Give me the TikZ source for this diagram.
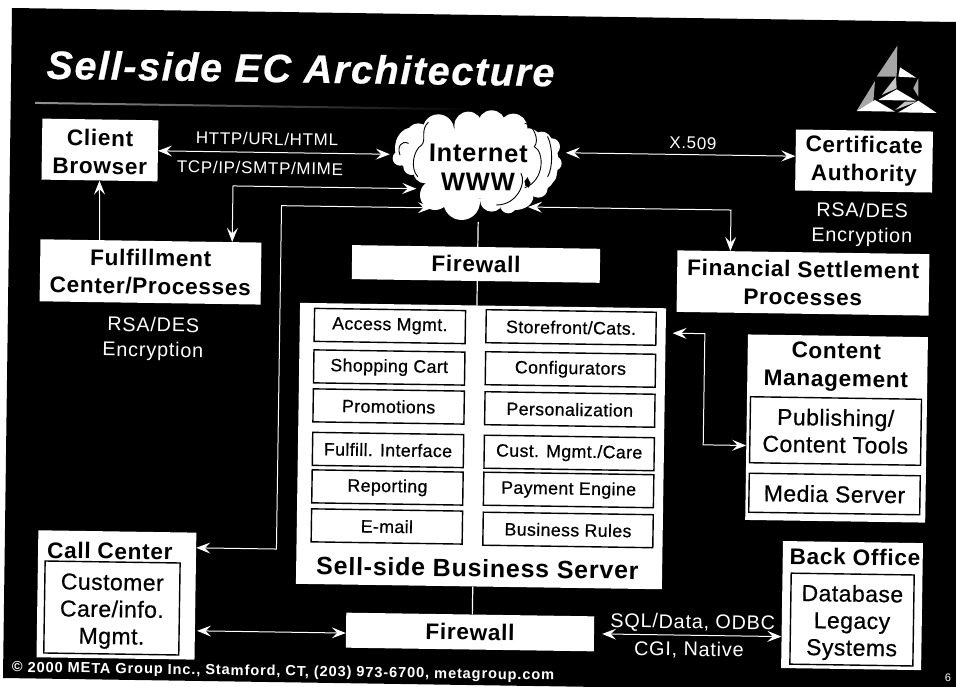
\documentclass[tikz,border=0pt]{standalone}
\usepackage{fontspec}
\setmainfont{Liberation Sans}
\newfontfamily\medfont[FakeBold=0.6,LetterSpace=2]{Liberation Sans}
\newfontfamily\labfont[LetterSpace=4]{Liberation Sans}
\newfontfamily\titlefont[LetterSpace=4,FakeBold=0.5]{Liberation Sans Bold Italic}
\newfontfamily\wideb[LetterSpace=3]{Liberation Sans Bold}
\newfontfamily\copyfont[LetterSpace=6]{Liberation Sans Bold}
\usetikzlibrary{arrows.meta,calc}
\tikzset{
  x=1pt,y=-1pt,
  whitebox/.style={fill=white,draw=none,inner sep=0pt,align=center,text=black,minimum width=#1},
  blocktext/.style={font=\wideb\fontsize{22.6}{28}\selectfont,align=center,inner sep=0pt,text=black},
  plaintxt/.style={font=\medfont\fontsize{23}{27}\selectfont,align=center,inner sep=0pt,text=black},
  framed/.style={fill=white,draw=black,line width=1.4pt,inner sep=0pt,align=center,text=black},
  modbox/.style={framed,font=\medfont\fontsize{17.8}{20}\selectfont},
  lab/.style={font=\labfont\fontsize{17}{20}\selectfont,text=white,align=center,inner sep=0pt},
  encr/.style={lab,font=\labfont\fontsize{19.8}{25}\selectfont},
  proto/.style={lab,font=\labfont\fontsize{19.8}{22}\selectfont},
  conn/.style={draw=white,line width=1pt},
  both/.style={conn,{Stealth[length=14pt,width=11pt,inset=5.5pt,fill=white]}-{Stealth[length=14pt,width=11pt,inset=5.5pt,fill=white]}},
  fwd/.style={conn,-{Stealth[length=14pt,width=11pt,inset=5.5pt,fill=white]}},
  plain/.style={draw=white,line width=1.2pt},
  bump/.style={fill=white,draw=none},
  cloudline/.style={draw=black,line width=0.9pt,line cap=round},
  logow/.style={fill=white,draw=none},
  logog/.style={fill=gray!70,draw=none},
  logod/.style={fill=gray!45,draw=none}
}
\begin{document}
\begin{tikzpicture}
\useasboundingbox (0,0) rectangle (956,687);
\fill[white] (0,0) rectangle (956,687);
\fill[black] (12,8) -- (956,22) -- (956,687) -- (600,687) -- (3,678) -- cycle;

% cloud
\begin{scope}[shift={(385,105)},x=0.3333pt,y=-0.3333pt]
  \fill[bump] (80,130) ellipse[x radius=50,y radius=62];
  \fill[bump] (470,170) ellipse[x radius=50,y radius=85];
  \fill[bump] (390,275) ellipse[x radius=55,y radius=40];
  \foreach \cx/\cy/\r in {100/90/35,60/110/25,45/160/22,80/185/25,
    470/110/30,500/125/25,508/175/22,490/210/25,460/250/28,370/300/25}
    \fill[bump] (\cx,\cy) circle[radius=\r];
  \foreach \cx/\cy/\r in {160/75/47,250/62/42,320/58/42,385/68/42,430/110/40,445/170/32,
    380/240/40,320/285/35,230/290/55,150/270/45,120/200/35,120/130/45}
    \fill[bump] (\cx,\cy) circle[radius=\r];
  \fill[bump] (278,170) ellipse[x radius=165,y radius=110];
  \draw[cloudline] (130,52) .. controls (105,75) and (125,105) .. (110,120) .. controls (85,135) and (75,190) .. (98,215);
  \draw[cloudline] (70,115) .. controls (50,105) and (35,125) .. (45,150);
  \draw[cloudline] (420,55) .. controls (445,60) and (465,105) .. (448,125) .. controls (478,140) and (480,225) .. (420,248);
  \draw[cloudline] (408,205) .. controls (425,235) and (395,300) .. (335,300);
  \draw[cloudline] (488,95) .. controls (505,130) and (503,190) .. (488,215);
\end{scope}

% logo
\begin{scope}[shift={(840,35)},x=0.3333pt,y=-0.3333pt]
  \fill[logog] (172,32) -- (110,125) -- (170,125) -- cycle;
  \fill[logow] (180,97) -- (175,125) -- (228,128) -- cycle;
  \fill[logog] (235,130) -- (220,160) -- (235,185) -- cycle;
  \fill[logod] (168,125) -- (125,180) -- (170,160) -- cycle;
  \fill[logow] (170,163) -- (115,195) -- (228,197) -- cycle;
  \fill[logog] (105,138) -- (50,227) -- (100,200) -- cycle;
  \fill[logow] (105,195) -- (50,228) -- (165,230) -- cycle;
  \fill[logow] (235,197) -- (175,232) -- (290,234) -- cycle;
  \fill[logod] (195,200) -- (165,225) -- (230,200) -- cycle;
\end{scope}

\begin{scope}[rotate around={-0.85:(478,343)},transform shape]
  % title and rule
  \node[font=\titlefont\fontsize{39.6}{44}\selectfont,text=white,inner sep=0pt] (title) at (296.5,71) {Sell-side EC Architecture};
  \shade[left color=gray!85,right color=black] (31.5,108.5) rectangle (470,110.5);

  % cloud label and ports
  \node[font=\wideb\fontsize{25.5}{29}\selectfont,align=center,inner sep=0pt,text=black] (cloud) at (475.5,167.5) {Internet\\WWW};
  \coordinate (cloudW) at (387,155.6);
  \coordinate (cloudSW) at (414,189.6);
  \coordinate (cloudS) at (430,208.6);
  \coordinate (cloudE) at (563,151.5);
  \coordinate (cloudSE) at (526,206.3);
  \coordinate (cloudB) at (476.4,222);

  % top-level boxes
  \node[whitebox=116pt,minimum height=61pt,blocktext] (client) at (97.1,155.6) {\rule{0pt}{20pt}Client\\Browser};
  \node[whitebox=221pt,minimum height=62pt,blocktext] (fulfil) at (149.5,276.8) {Fulfillment\\Center/Processes};
  \node[whitebox=248pt,minimum height=34pt,blocktext] (fwtop) at (474.8,264) {Firewall};
  \node[whitebox=137pt,minimum height=61pt,blocktext] (cert) at (861.3,155.3) {Certificate\\Authority};
  \node[whitebox=252pt,minimum height=61.5pt,blocktext] (fin) at (802.1,278.2) {Financial Settlement\\Processes};
  \node[whitebox=366pt,minimum height=281pt] (server) at (482.5,446) {};
  \node[whitebox=248pt,minimum height=35pt,blocktext] (fwbot) at (474.3,632.1) {Firewall};

  % modules
  \foreach \nm/\yy/\txt in {m1/327.3/Access Mgmt.,m2/368.8/Shopping Cart,m3/407.8/Promotions,m4/451.3/Fulfill. Interface,m5/488.8/Reporting,m6/527.8/E-mail}
    \node[modbox,minimum width=151pt,minimum height=33pt] (\nm) at (389.6,\yy) {\txt};
  \foreach \nm/\yy/\txt in {n1/326.1/{Storefront/Cats.},n2/368.1/Configurators,n3/408.1/Personalization,n4/451.6/{Cust. Mgmt./Care},n5/488.6/Payment Engine,n6/528.6/Business Rules}
    \node[modbox,minimum width=170pt,minimum height=33pt] (\nm) at (570.8,\yy) {\txt};
  \node[font=\wideb\fontsize{25}{28}\selectfont,inner sep=0pt,text=black] (srvname) at (480.8,568) {Sell-side Business Server};

  % content management
  \node[whitebox=180pt,minimum height=185.5pt] (content) at (837.8,423.2) {};
  \node[blocktext] (contentname) at (836.4,361.7) {Content\\Management};
  \node[framed,plaintxt,minimum width=171pt,minimum height=66pt] (publish) at (836.8,425.7) {Publishing/\\Content Tools};
  \node[framed,plaintxt,minimum width=171pt,minimum height=39pt] (media) at (836.7,488.7) {Media Server};

  % back office
  \node[whitebox=140pt,minimum height=127pt] (back) at (855.9,600) {};
  \node[blocktext] (backname) at (858.2,551.4) {Back Office};
  \node[framed,plaintxt,minimum width=123pt,minimum height=91pt] (db) at (856.1,614) {\rule{0pt}{23pt}Database\\Legacy\\Systems};

  % call center
  \node[whitebox=158pt,minimum height=127pt] (call) at (120.2,600.3) {};
  \node[blocktext] (callname) at (113,556.4) {Call Center};
  \node[framed,plaintxt,minimum width=135pt,minimum height=92pt] (care) at (115.9,613.4) {\rule{0pt}{23pt}Customer\\Care/info.\\Mgmt.};

  % labels
  \node[lab] (l1) at (264,142) {HTTP/URL/HTML};
  \node[lab] (l2) at (257.4,171.2) {TCP/IP/SMTP/MIME};
  \node[lab] (l3) at (690,140) {X.509};
  \node[encr] (l4) at (860.2,218.8) {RSA/DES\\Encryption};
  \node[encr] (l5) at (153,343.8) {RSA/DES\\Encryption};
  \node[proto] (l6) at (696.9,620) {SQL/Data, ODBC};
  \node[proto] (l7) at (693.5,647) {CGI, Native};
  \node[font=\copyfont\fontsize{14.6}{16}\selectfont,text=white,inner sep=0pt] (copy) at (288,675) {© 2000 META Group Inc., Stamford, CT, (203) 973-6700, metagroup.com};
  \node[font=\fontsize{11}{12}\selectfont,text=white,inner sep=0pt] (pg) at (953,671) {6};

  % connectors
  \draw[both] (client.east |- cloudW) -- (cloudW);
  \draw[fwd] (fulfil.north -| client.north) ++(1,0) -- (client.south);
  \draw[both] (fulfil.north -| 230.7,0) |- (cloudSW);
  \draw[both] (call.east |- 0,552) -| (279.5,208.6) -- (cloudS);
  \draw[both] (cloudE) -- (cert.west |- cloudE);
  \draw[both] (cloudSE) -| (fin.north -| 729,0);
  \draw[plain] (cloudB) -- (fwtop.north -| cloudB);
  \draw[plain] (fwtop.south -| cloudB) -- (server.north -| cloudB);
  \draw[plain] (server.south -| cloudB) -- (fwbot.north -| cloudB);
  \draw[both] (672.5,330.3) -| (704.7,441.5) -- (content.west |- 0,441.5);
  \draw[both] (call.east |- fwbot.west) ++(2,2.9) -- (fwbot.west |- 0,635);
  \draw[both] (fwbot.east) ++(8,0) -- (back.west |- fwbot.east);
\end{scope}
\end{tikzpicture}
\end{document}
